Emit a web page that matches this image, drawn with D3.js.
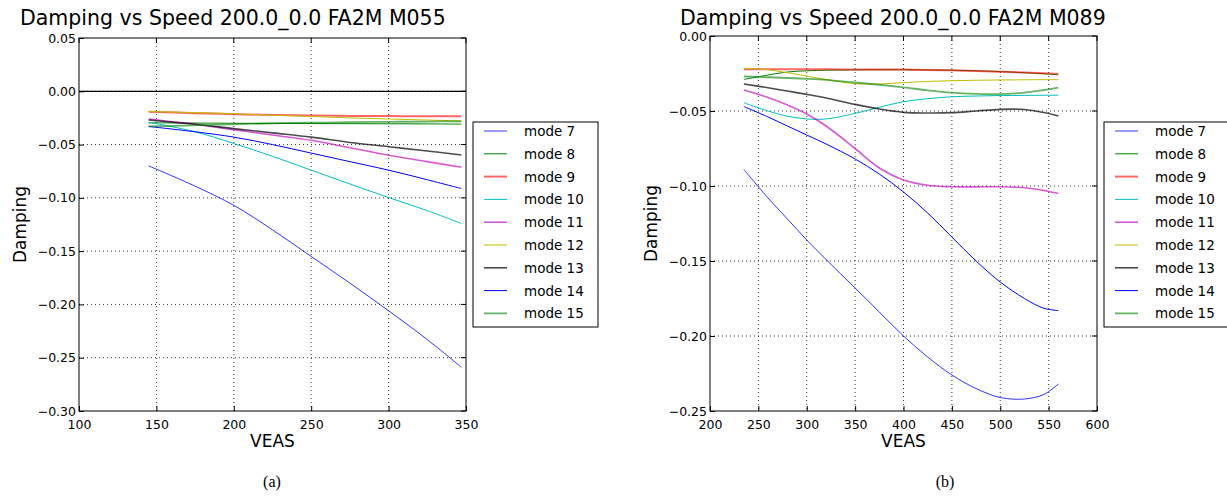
<!DOCTYPE html>
<html>
<head>
<meta charset="utf-8">
<title>Damping vs Speed</title>
<script src="https://d3js.org/d3.v7.min.js"></script>
<style>
body { margin: 0; background: #fff; }
svg { display: block; font-family: "DejaVu Sans", sans-serif; }
.grid line { stroke: #000; stroke-dasharray: 1,3; stroke-width: 0.8; }
</style>
</head>
<body>
<script>
// mode names and line styles (matplotlib classic cycle)
const modes = ['mode 7', 'mode 8', 'mode 9', 'mode 10', 'mode 11', 'mode 12', 'mode 13', 'mode 14', 'mode 15'];
const colors = ['#0000ff', '#008000', '#ff0000', '#00bfbf', '#bf00bf', '#bfbf00', '#000000', '#0000ff', '#008000'];
const alphas = [0.8, 1, 0.6, 1, 0.65, 1, 0.7, 1, 0.6];
const widths = [1, 1, 2, 1, 1.6, 1, 1.6, 1, 1.8];

// panel (a) M055
const speedA = [145, 175, 200, 225, 250, 275, 300, 325, 347];
const dampA = [
  [-0.070, -0.089, -0.107, -0.130, -0.155, -0.180, -0.206, -0.233, -0.259],
  [-0.0296, -0.0298, -0.0300, -0.0302, -0.0303, -0.0304, -0.0305, -0.0306, -0.0308],
  [-0.0193, -0.0205, -0.0215, -0.0222, -0.0228, -0.0231, -0.0233, -0.0234, -0.0234],
  [-0.029, -0.038, -0.049, -0.061, -0.074, -0.087, -0.0997, -0.112, -0.124],
  [-0.026, -0.031, -0.036, -0.041, -0.046, -0.053, -0.060, -0.066, -0.0713],
  [-0.019, -0.020, -0.021, -0.0225, -0.0236, -0.025, -0.026, -0.027, -0.0277],
  [-0.027, -0.031, -0.035, -0.039, -0.043, -0.048, -0.052, -0.056, -0.0598],
  [-0.033, -0.038, -0.043, -0.050, -0.058, -0.066, -0.074, -0.083, -0.0913],
  [-0.033, -0.032, -0.031, -0.030, -0.0295, -0.029, -0.0287, -0.0284, -0.0282]
];

// panel (b) M089
const speedB = [235, 260, 280, 300, 320, 350, 375, 400, 425, 450, 475, 500, 525, 545, 560];
const dampB = [
  [-0.089, -0.108, -0.122, -0.136, -0.149, -0.168, -0.184, -0.200, -0.214, -0.226, -0.235, -0.241, -0.242, -0.239, -0.232],
  [-0.029, -0.026, -0.024, -0.0232, -0.0228, -0.0226, -0.0225, -0.0225, -0.0226, -0.0228, -0.0232, -0.0237, -0.0245, -0.0252, -0.0258],
  [-0.0222, -0.0221, -0.0221, -0.0222, -0.0222, -0.0223, -0.0223, -0.0224, -0.0226, -0.0229, -0.0233, -0.0238, -0.0244, -0.0249, -0.0253],
  [-0.0445, -0.050, -0.0535, -0.0553, -0.0553, -0.0516, -0.0475, -0.0438, -0.0418, -0.0405, -0.0400, -0.0397, -0.0396, -0.0395, -0.0395],
  [-0.036, -0.041, -0.046, -0.052, -0.060, -0.075, -0.088, -0.096, -0.0995, -0.1005, -0.1006, -0.1005, -0.1012, -0.1030, -0.1050],
  [-0.0215, -0.0225, -0.0245, -0.0267, -0.0290, -0.0318, -0.0320, -0.0311, -0.0303, -0.0298, -0.0295, -0.0293, -0.0292, -0.0291, -0.0291],
  [-0.032, -0.0345, -0.0367, -0.0389, -0.0413, -0.0456, -0.0487, -0.0509, -0.0513, -0.0511, -0.0500, -0.0489, -0.0490, -0.0510, -0.0533],
  [-0.047, -0.054, -0.060, -0.066, -0.072, -0.082, -0.092, -0.104, -0.118, -0.134, -0.150, -0.164, -0.175, -0.1815, -0.183],
  [-0.0270, -0.0275, -0.0280, -0.0285, -0.0292, -0.0310, -0.0325, -0.0342, -0.0362, -0.0378, -0.0386, -0.0388, -0.0377, -0.0360, -0.0344]
];

const xTicksA = [100, 150, 200, 250, 300, 350];
const yTicksA = [0.05, 0, -0.05, -0.10, -0.15, -0.20, -0.25, -0.30];
const xTicksB = [200, 250, 300, 350, 400, 450, 500, 550, 600];
const yTicksB = [0, -0.05, -0.10, -0.15, -0.20, -0.25];

const svg = d3.select('body').append('svg').attr('width', 1227).attr('height', 496);
svg.append('rect').attr('width', 1227).attr('height', 496).attr('fill', '#fff');

const fmt = d => d3.format('.2f')(d).replace('-', '\u2212');

function panel(opt) {
  let x = d3.scaleLinear().domain(opt.xDomain).range([opt.left, opt.right]);
  let y = d3.scaleLinear().domain(opt.yDomain).range([opt.bottom, opt.top]);
  let g = svg.append('g');

  // grid
  let grid = g.append('g').attr('class', 'grid');
  grid.selectAll('.gx').data(opt.xTicks.slice(1, -1)).enter().append('line')
    .attr('x1', d => x(d)).attr('x2', d => x(d)).attr('y1', opt.top).attr('y2', opt.bottom);
  grid.selectAll('.gy').data(opt.yTicks.slice(1, -1)).enter().append('line')
    .attr('y1', d => y(d)).attr('y2', d => y(d)).attr('x1', opt.left).attr('x2', opt.right);

  if (opt.zeroLine) {
    g.append('line').attr('x1', opt.left).attr('x2', opt.right).attr('y1', y(0)).attr('y2', y(0))
      .attr('stroke', '#000').attr('stroke-width', 1.2);
  }

  let line = d3.line().x(d => x(d[0])).y(d => y(d[1])).curve(d3.curveCatmullRom.alpha(0.5));
  opt.data.forEach((series, i) => {
    g.append('path').datum(opt.speeds.map((s, j) => [s, series[j]]))
      .attr('d', line).attr('fill', 'none')
      .attr('stroke', colors[i]).attr('stroke-opacity', alphas[i]).attr('stroke-width', widths[i]);
  });

  // axes with inward ticks
  let xAxis = d3.axisBottom(x).tickValues(opt.xTicks).tickSize(-5).tickPadding(9).tickFormat(d3.format('d'));
  let yAxis = d3.axisLeft(y).tickValues(opt.yTicks).tickSize(-5).tickPadding(3).tickFormat(fmt);
  g.append('g').attr('transform', 'translate(0,' + opt.bottom + ')').call(xAxis).call(a => a.select('.domain').remove());
  g.append('g').attr('transform', 'translate(' + opt.left + ',0)').call(yAxis).call(a => a.select('.domain').remove());
  g.selectAll('.tick text').attr('font-size', 12.5).attr('font-family', '"DejaVu Sans", sans-serif').attr('fill', '#000');
  g.selectAll('.tick line').attr('stroke', '#000');
  // top / right ticks
  g.selectAll('.tt').data(opt.xTicks).enter().append('line')
    .attr('x1', d => x(d)).attr('x2', d => x(d)).attr('y1', opt.top).attr('y2', opt.top + 5).attr('stroke', '#000');
  g.selectAll('.rt').data(opt.yTicks).enter().append('line')
    .attr('y1', d => y(d)).attr('y2', d => y(d)).attr('x1', opt.right).attr('x2', opt.right - 5).attr('stroke', '#000');

  g.append('rect').attr('x', opt.left).attr('y', opt.top).attr('width', opt.right - opt.left).attr('height', opt.bottom - opt.top)
    .attr('fill', 'none').attr('stroke', '#000').attr('stroke-width', 1);

  g.append('text').attr('x', opt.titleX).attr('y', 25).attr('font-size', 20.5).text(opt.title);
  g.append('text').attr('font-size', 17).attr('text-anchor', 'middle')
    .attr('x', (opt.left + opt.right) / 2).attr('y', 447).text('VEAS');
  g.append('text').attr('font-size', 17).attr('text-anchor', 'middle')
    .attr('transform', 'translate(' + opt.yLabelX + ',' + ((opt.top + opt.bottom) / 2) + ') rotate(-90)').text('Damping');
  g.append('text').attr('text-anchor', 'middle')
    .attr('font-family', '"Liberation Serif", "DejaVu Serif", serif').attr('font-size', 16)
    .attr('x', opt.captionX).attr('y', 487).text(opt.caption);

  // legend
  let lg = g.append('g');
  lg.append('rect').attr('x', opt.legendX).attr('y', 122).attr('width', 125).attr('height', 205)
    .attr('fill', '#fff').attr('stroke', '#000').attr('stroke-width', 1);
  modes.forEach((m, i) => {
    let ly = 131 + i * 22.8;
    lg.append('line').attr('x1', opt.legendX + 11).attr('x2', opt.legendX + 34).attr('y1', ly).attr('y2', ly)
      .attr('stroke', colors[i]).attr('stroke-opacity', alphas[i]).attr('stroke-width', widths[i]);
    lg.append('text').attr('font-size', 13.5).attr('x', opt.legendX + 51).attr('y', ly + 5).text(m);
  });
}

panel({
  xDomain: [100, 350], yDomain: [-0.30, 0.05], left: 79, right: 466, top: 38, bottom: 411,
  xTicks: xTicksA, yTicks: yTicksA, speeds: speedA, data: dampA, zeroLine: true,
  title: 'Damping vs Speed 200.0_0.0 FA2M M055', titleX: 20, yLabelX: 26, captionX: 272, caption: '(a)', legendX: 473
});
panel({
  xDomain: [200, 600], yDomain: [-0.25, 0], left: 710, right: 1097, top: 36, bottom: 411,
  xTicks: xTicksB, yTicks: yTicksB, speeds: speedB, data: dampB, zeroLine: false,
  title: 'Damping vs Speed 200.0_0.0 FA2M M089', titleX: 680, yLabelX: 657, captionX: 945, caption: '(b)', legendX: 1104
});
</script>
</body>
</html>
